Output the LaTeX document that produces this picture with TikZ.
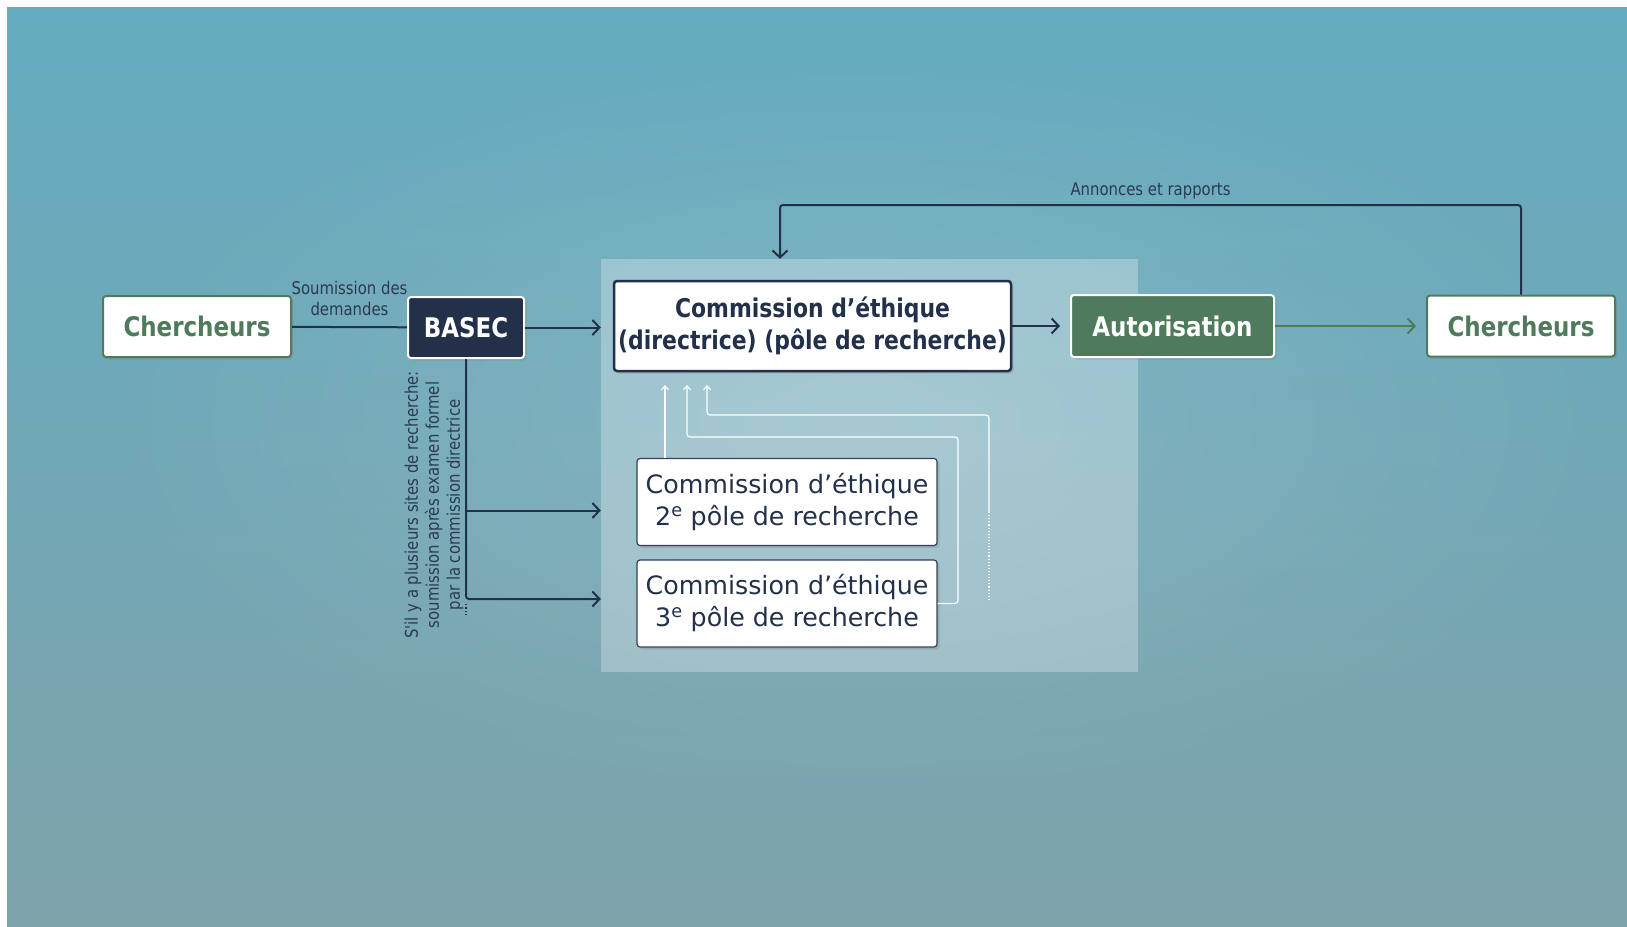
\documentclass[tikz,border=0pt]{standalone}
\usepackage{fontspec}
\setmainfont{DejaVu Sans}[BoldFeatures={FakeStretch=0.85}]
\newfontfamily\lblfont{DejaVu Sans}[FakeStretch=0.85]
\usetikzlibrary{arrows.meta,shadows,fadings}

\definecolor{navy}{RGB}{34,48,74}
\definecolor{leaf}{RGB}{79,122,92}
\definecolor{lbltext}{RGB}{43,58,82}
\definecolor{bgtop}{RGB}{100,172,192}
\definecolor{bgmid}{RGB}{136,180,192}
\definecolor{bgbot}{RGB}{127,163,171}
\tikzfading[name=glowfade,inner color=transparent!0,outer color=transparent!100]

\begin{document}
\begin{tikzpicture}[x=1pt,y=-1pt,
    >={Straight Barb[length=7pt,width=15pt]},
    darr/.style={->,draw=navy,line width=2pt},
    garr/.style={->,draw=leaf,line width=2pt},
    warr/.style={-{Straight Barb[length=4pt,width=7pt]},draw=white,line width=1.1pt,rounded corners=3pt},
    lbl/.style={font=\lblfont\fontsize{17.5}{21}\selectfont,text=lbltext,inner sep=2pt},
    box/.style={rounded corners=3pt,line width=2pt,inner sep=0pt,align=center,
        drop shadow={shadow xshift=2.5pt,shadow yshift=-2.5pt,opacity=.3}},
    bigtext/.style={font=\bfseries\fontsize{27}{32}\selectfont},
    greenout/.style={box,bigtext,fill=white,draw=leaf,text=leaf,minimum width=188pt,minimum height=61pt},
    greenbox/.style={box,bigtext,fill=leaf,draw=white,text=white,minimum width=203pt,minimum height=62pt},
    navybox/.style={box,bigtext,fill=navy,draw=white,text=white,minimum width=116pt,minimum height=61pt},
    mainbox/.style={box,font=\bfseries\fontsize{25.8}{32}\selectfont,fill=white,draw=navy,text=navy,line width=2.5pt,minimum width=397pt,minimum height=90pt},
    polebox/.style={box,font=\fontsize{25.3}{32}\selectfont,fill=white,draw=navy!80!gray,text=navy,line width=1.2pt,minimum width=300pt,minimum height=87pt}]

    \useasboundingbox (0,0) rectangle (1627,926);
    \fill[white] (0,0) rectangle (1627,926);
    \shade[top color=bgtop,middle color=bgmid,bottom color=bgbot] (7,7) rectangle (1627,926);
    \fill[white,opacity=.14,path fading=glowfade] (860,420) ellipse (760pt and 380pt);

    \node[fill=white,fill opacity=.28,minimum width=537pt,minimum height=413pt,inner sep=0pt] (panel) at (869.5,465.5) {};

    \node[greenout] (chL) at (197,326.5) {Chercheurs};
    \node[navybox] (basec) at (466,327.5) {BASEC};
    \node[mainbox] (comm) at (812.5,326) {Commission d’éthique\\(directrice) (pôle de recherche)};
    \node[greenbox] (autor) at (1172.5,326) {Autorisation};
    \node[greenout] (chR) at (1521,326) {Chercheurs};
    \node[polebox] (c2) at (787,502) {Commission d’éthique\\2\textsuperscript{e} pôle de recherche};
    \node[polebox] (c3) at (787,603.5) {Commission d’éthique\\3\textsuperscript{e} pôle de recherche};

    \node[lbl,rotate=90,align=center] (note) at (434,505) {S'il y a plusieurs sites de recherche:\\soumission après examen formel\\par la commission directrice};

    \draw[navy,line width=2pt] (chL) -- node[lbl,above=8pt,align=center] (sub) {Soumission des\\demandes} (basec);
    \draw[darr] (basec) -- (basec -| panel.west);
    \draw[darr,shorten >=10pt] (comm) -- (autor);
    \draw[garr,shorten >=10pt] (autor) -- (chR);

    \coordinate (back) at (780,205);
    \draw[darr,rounded corners=3pt] (chR.north) |- node[lbl,pos=.75,above=3pt] (ann) {Annonces et rapports} (back) -- (back |- panel.north);

    % plusieurs sites
    \coordinate (b2) at (466,510.5);
    \coordinate (b3) at (466,599);
    \draw[darr,rounded corners=3pt] (basec.south) |- (b3 -| panel.west);
    \draw[darr] (b2) -- (b2 -| panel.west);
    \draw[navy,line width=1.4pt,dash pattern=on 1.4pt off 2pt] (466,604) -- (466,615);

    % retours vers la commission directrice
    \coordinate (tA) at (665,385);
    \coordinate (tB) at (687,385);
    \coordinate (tC) at (707,385);
    \coordinate (rB) at (958,437);
    \coordinate (rC) at (989,415);
    \draw[warr] (c2.north -| tA) -- (tA);
    \draw[warr] (c3.east) -| (rB) -| (tB);
    \draw[warr] (rC |- 0,512) -- (rC) -| (tC);
    \draw[white,line width=1.1pt,dotted] (rC |- 0,512) -- (rC |- 0,600);
\end{tikzpicture}
\end{document}
